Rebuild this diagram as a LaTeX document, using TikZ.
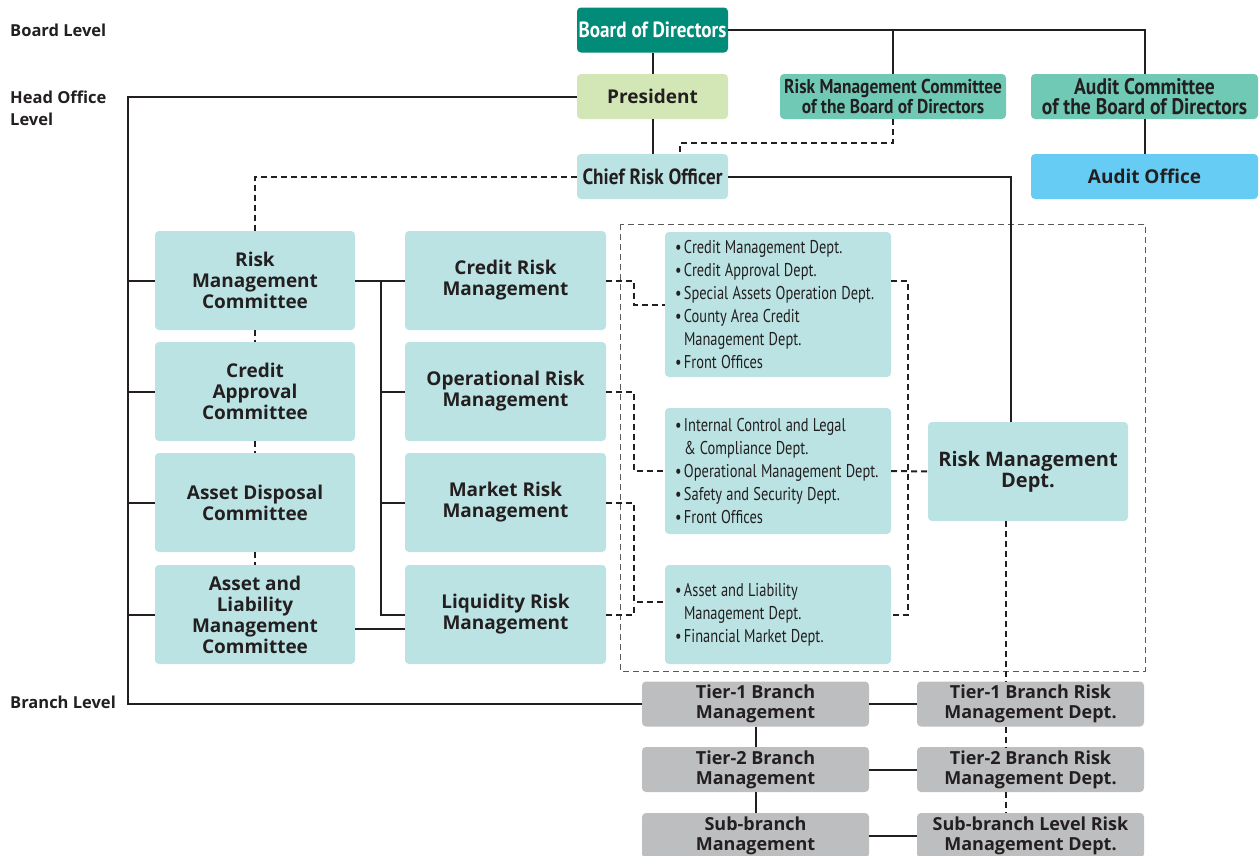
\documentclass[tikz,border=0pt]{standalone}
\usepackage{fontspec}
\setmainfont{Open Sans}
\newfontfamily\condfont[FakeStretch=0.78]{PT Sans}
\newfontfamily\condbold[FakeStretch=0.87]{PT Sans}
\definecolor{boardgreen}{HTML}{008C78}
\definecolor{presgreen}{HTML}{D3E6B6}
\definecolor{comgreen}{HTML}{6FC9B5}
\definecolor{paleteal}{HTML}{BCE3E3}
\definecolor{auditblue}{HTML}{66CCF4}
\definecolor{branchgrey}{HTML}{BDBEC0}
\definecolor{inkgrey}{HTML}{231F20}
\newcommand{\deptitem}[1]{\mbox{\spaceskip=4.2pt\relax\makebox[9pt][l]{\textbullet}#1}}
\newcommand{\deptcont}[1]{\mbox{\spaceskip=4.2pt\relax\makebox[9pt][l]{}#1}}
\tikzset{
  box/.style={rounded corners=4pt, inner sep=0pt, align=center, text=inkgrey,
    font=\bfseries\fontsize{19}{21}\selectfont},
  condbox/.style={box, font=\condbold\bfseries\fontsize{22}{21}\selectfont},
  topbox/.style={minimum width=151pt, minimum height=45pt},
  unit/.style={box, fill=paleteal, minimum width=200pt, minimum height=99pt},
  dept/.style={box, fill=paleteal, align=left, text width=206pt, inner xsep=10pt,
    font=\condfont\fontsize{18.5}{23}\selectfont},
  branch/.style={box, fill=branchgrey, minimum width=227pt, minimum height=45pt,
    font=\bfseries\fontsize{18}{20}\selectfont},
  lvl/.style={anchor=west, align=left, text=inkgrey, inner sep=0pt,
    font=\bfseries\fontsize{16.5}{22}\selectfont},
  solid line/.style={draw=inkgrey, line width=2pt},
  dash line/.style={draw=inkgrey, line width=2pt, dash pattern=on 6pt off 4pt},
}
\begin{document}
\begin{tikzpicture}[x=1pt, y=-1pt]
\useasboundingbox (0,0) rectangle (1259,855);

% level labels
\node[lvl] (lvboard) at (10,30) {Board Level};
\node[lvl] (lvhead) at (10,108) {Head Office\\Level};
\node[lvl] (lvbranch) at (10,702) {Branch Level};

% board and head office
\node[condbox, topbox, fill=boardgreen, text=white] (board) at (652.5,30) {Board of Directors};
\node[box, topbox, fill=presgreen] (pres) at (652.5,96.5) {President};
\node[condbox, fill=comgreen, minimum width=226pt, minimum height=45pt,
  font=\condbold\bfseries\fontsize{20}{20}\selectfont] (rmcb) at (893,96.5)
  {Risk Management Committee\\of the Board of Directors};
\node[condbox, fill=comgreen, minimum width=227pt, minimum height=45pt,
  font=\condbold\bfseries\fontsize{22.5}{20}\selectfont] (audc) at (1144.5,96.5)
  {Audit Committee\\of the Board of Directors};
\node[condbox, topbox, fill=paleteal] (cro) at (652.5,176.5) {Chief Risk Officer};
\node[box, fill=auditblue, minimum width=227pt, minimum height=45pt] (audo) at (1144.5,176.5) {Audit Office};

% committees
\node[unit] (rmc) at (255,280.5) {Risk\\Management\\Committee};
\node[unit] (cac) at (255,391.5) {Credit\\Approval\\Committee};
\node[unit] (adc) at (255,502.5) {Asset Disposal\\Committee};
\node[unit] (alm) at (255,614.5) {Asset and\\Liability\\Management\\Committee};

% risk types
\node[unit, minimum width=201pt] (crm) at (505.5,280.5) {Credit Risk\\Management};
\node[unit, minimum width=201pt] (orm) at (505.5,391.5) {Operational Risk\\Management};
\node[unit, minimum width=201pt] (mrm) at (505.5,502.5) {Market Risk\\Management};
\node[unit, minimum width=201pt] (lrm) at (505.5,614.5) {Liquidity Risk\\Management};

% departments
\draw[draw=gray!70!black, line width=1pt, dash pattern=on 6pt off 4pt] (620,224) rectangle (1145,671);
\node[dept, minimum height=145pt] (d1) at (778,304.5) {\deptitem{Credit Management Dept.}\\
  \deptitem{Credit Approval Dept.}\\ \deptitem{Special Assets Operation Dept.}\\
  \deptitem{County Area Credit}\\ \deptcont{Management Dept.}\\ \deptitem{Front Offices}};
\node[dept, minimum height=126pt] (d2) at (778,471) {\deptitem{Internal Control and Legal}\\
  \deptcont{\& Compliance Dept.}\\ \deptitem{Operational Management Dept.}\\
  \deptitem{Safety and Security Dept.}\\ \deptitem{Front Offices}};
\node[dept, minimum height=99pt] (d3) at (778,614.5) {\deptitem{Asset and Liability}\\
  \deptcont{Management Dept.}\\ \deptitem{Financial Market Dept.}};
\node[unit, font=\bfseries\fontsize{20}{21}\selectfont] (rmd) at (1028,471.5) {Risk Management\\Dept.};

% branch level
\node[branch] (t1b) at (755.5,704) {Tier-1 Branch\\Management};
\node[branch] (t2b) at (755.5,769.5) {Tier-2 Branch\\Management};
\node[branch] (sbb) at (755.5,835.5) {Sub-branch\\Management};
\node[branch] (t1r) at (1030.5,704) {Tier-1 Branch Risk\\Management Dept.};
\node[branch] (t2r) at (1030.5,769.5) {Tier-2 Branch Risk\\Management Dept.};
\node[branch] (sbr) at (1030.5,835.5) {Sub-branch Level Risk\\Management Dept.};

% solid reporting lines
\draw[solid line] (board.east) -| (audc.north);
\draw[solid line] (board.east -| rmcb.north) -- (rmcb.north);
\draw[solid line] (board) -- (pres);
\draw[solid line] (pres) -- (cro);
\draw[solid line] (audc) -- (audo);
\draw[solid line] (cro.east) -| ([xshift=-17pt]rmd.north);
\coordinate (spine) at (128,96.5);
\draw[solid line] (pres.west) -- (spine) |- (t1b.west);
\foreach \c in {rmc,cac,adc,alm}
  \draw[solid line] (spine |- \c.west) -- (\c.west);
\draw[solid line] (rmc.east) -- (crm.west);
\coordinate (midspine) at (381,280.5);
\draw[solid line] (midspine) |- (lrm.west);
\foreach \c in {orm,mrm}
  \draw[solid line] (midspine |- \c.west) -- (\c.west);
\draw[solid line] ([yshift=-14.5pt]alm.east) -- ([yshift=-14.5pt]alm.east -| lrm.west);
\draw[solid line] (t1b) -- (t2b);
\draw[solid line] (t2b) -- (sbb);
\foreach \b/\r in {t1b/t1r,t2b/t2r,sbb/sbr}
  \draw[solid line] (\b.east) -- (\r.west);

% dashed lines
\draw[dash line] (rmcb.south) -- ++(0,24) -| ([xshift=27.5pt]cro.north);
\draw[dash line] (cro.west) -| (rmc.north);
\draw[dash line] (rmc) -- (cac);
\draw[dash line] (cac) -- (adc);
\draw[dash line] (adc) -- (alm);
\draw[dash line] (crm.east) -- ++(28,0) |- (d1.west);
\draw[dash line] (orm.east) -- ++(28,0) |- (d2.west);
\draw[dash line] (mrm.east) -- ++(28,0) |- ([yshift=13pt]d3.west);
\draw[dash line] (lrm.east) -- ++(28,0) -- ++(0,-12);
\draw[dash line] ([yshift=23.5pt]d1.east) -- ++(17,0) |- (d3.east);
\draw[dash line] (d2.east) -- (rmd.west);
\draw[dash line] ([xshift=-22pt]rmd.south) -- ([xshift=-24.5pt]t1r.north);
\draw[dash line] ([xshift=-24.5pt]t1r.south) -- ([xshift=-24.5pt]t2r.north);
\draw[dash line] ([xshift=-24.5pt]t2r.south) -- ([xshift=-24.5pt]sbr.north);
\end{tikzpicture}
\end{document}
